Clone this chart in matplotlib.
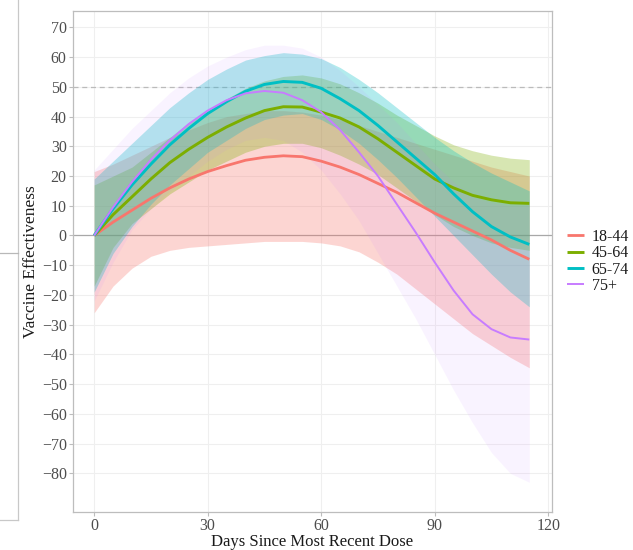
import matplotlib
matplotlib.use("Agg")
import matplotlib.pyplot as plt
from matplotlib.lines import Line2D
import numpy as np

days = [0, 5, 10, 15, 20, 25, 30, 35, 40, 45, 50, 55, 60, 65, 70, 75, 80, 85, 90, 95, 100, 105, 110, 115]
groups = ["18-44", "45-64", "65-74", "75+"]
colors = ["#F8766D", "#7CAE00", "#00BFC4", "#C77CFF"]

ve_18_44 = [0, 4.5, 8.5, 12.5, 16, 19, 21.5, 23.5, 25.3, 26.3, 26.8, 26.5, 25, 23, 20.5, 17.5, 14.5, 11, 7.5, 4.5, 1.5, -1.5, -5, -8]
ve_45_64 = [0, 7, 13, 19, 24.5, 29, 33, 36.5, 39.5, 42, 43.3, 43.2, 41.5, 39.5, 36.5, 32.5, 28, 23.5, 19, 16, 13.5, 12, 11, 10.8]
ve_65_74 = [0, 9, 17, 24, 30.5, 36, 41, 45, 48.5, 50.8, 51.8, 51.5, 49.5, 46, 42, 37, 31.5, 26, 20.5, 14, 8, 3, -0.5, -3]
ve_75 = [0, 9.5, 18, 25.5, 32, 37.5, 42, 45.5, 47.8, 48.6, 48, 45.5, 41.5, 35.5, 28, 20, 10.5, 1, -9, -18.5, -26.5, -31.5, -34.3, -35]

up_18_44 = [21.5, 24, 27, 30, 33, 35.5, 38, 40, 41, 42, 42, 41.5, 40.5, 39, 37, 35, 33, 31, 29, 27, 25, 23, 21.5, 20]
lo_18_44 = [-26, -17, -11, -7, -5, -4, -3.5, -3, -2.5, -2, -2, -2, -2.5, -3.5, -5.5, -9, -13, -18, -23, -28, -33, -37, -41, -44.5]
up_45_64 = [17, 20, 23, 28, 33, 38, 42, 46, 49.5, 52, 53.5, 54, 53, 51, 48, 44.5, 40.5, 37, 33.5, 30.5, 28.5, 27, 26, 25.5]
lo_45_64 = [-17, -4, 4, 9, 14, 18, 22, 25, 28, 30, 31, 31, 29.5, 27, 24, 20.5, 16, 11.5, 7, 3, 0, -2.5, -4, -5]
up_65_74 = [19, 25, 31, 37, 43, 48, 52.5, 56, 59, 60.5, 61.5, 61, 59.5, 56.5, 52.5, 48, 43, 38, 33, 28.5, 24.5, 21, 18, 15]
lo_65_74 = [-19, -6, 3, 10.5, 17, 22.5, 28, 32, 36, 39, 40.5, 41, 39, 35.5, 31, 25.5, 19.5, 13, 6.5, 0, -6.5, -13, -19, -24]
up_75 = [22, 29, 36, 42, 48, 53, 57, 60, 62.5, 64, 64, 63, 60, 55.5, 50, 44, 38, 31, 24, 18, 13, 11, 10, 10]
lo_75 = [-22, -9, 2, 9, 15, 20, 25, 29, 32, 33, 32, 28, 22, 14, 5, -6, -17, -28, -40, -52, -63, -73, -80, -83]

lines = [ve_18_44, ve_45_64, ve_65_74, ve_75]
uppers = [up_18_44, up_45_64, up_65_74, up_75]
lowers = [lo_18_44, lo_45_64, lo_65_74, lo_75]
band_alpha = [0.3, 0.3, 0.3, 0.09]
line_w = [2.0, 2.1, 2.1, 1.4]

x_ticks = [0, 30, 60, 90, 120]
y_ticks = list(range(-80, 71, 10))

plt.rcParams['font.family'] = ['Liberation Serif', 'DejaVu Serif']

fig = plt.figure(figsize=(6.33, 5.5), dpi=100)
ax = fig.add_axes([0.1153, 0.0691, 0.7567, 0.9109])

ax.set_xlim(-5.6, 121)
ax.set_ylim(-93, 75.5)

for i in range(4):
    ax.fill_between(days, lowers[i], uppers[i], color=colors[i], alpha=band_alpha[i], linewidth=0, zorder=2)

ax.axhline(0, color="#A8A8A8", lw=0.9, zorder=1.5)
ax.axhline(50, color="#BBBBBB", lw=0.9, ls=(0, (4, 3)), zorder=1.5)

for i in range(4):
    ax.plot(days, lines[i], color=colors[i], lw=line_w[i], zorder=3, label=groups[i],
            solid_capstyle='butt')

ax.set_xticks(x_ticks)
ax.set_yticks(y_ticks)
ax.grid(True, color="#EFEFEF", lw=0.8, zorder=0)
ax.set_axisbelow(True)
for s in ax.spines.values():
    s.set_color("#BDBDBD")
    s.set_linewidth(0.9)
ax.tick_params(colors="#BDBDBD", labelcolor="#4D4D4D", labelsize=11.5, length=3, width=0.8, pad=1.5)
ax.tick_params(axis="x", pad=1)
ax.set_ylabel("Vaccine Effectiveness", fontsize=12.5, color="#1A1A1A", labelpad=2)
fig.text(312/633, 1 - 542/550, "Days Since Most Recent Dose", fontsize=12, color="#1A1A1A",
         ha="center", va="center")

leg = ax.legend(loc="center left", bbox_to_anchor=(1.031, 0.5), frameon=False, fontsize=11.5,
                handlelength=1.1, handletextpad=0.45, labelspacing=0.02, borderaxespad=0, borderpad=0)
for t in leg.get_texts():
    t.set_color("#1A1A1A")

# partial neighbouring panel at the left edge
fig.add_artist(Line2D([18/633, 18/633], [1, 1-520/550], transform=fig.transFigure, color="#C8C8C8", lw=0.9))
fig.add_artist(Line2D([0, 18/633], [1-520/550, 1-520/550], transform=fig.transFigure, color="#C8C8C8", lw=0.9))
fig.add_artist(Line2D([0, 18/633], [1-253/550, 1-253/550], transform=fig.transFigure, color="#B8B8B8", lw=0.9))

fig.savefig("out.png", dpi=100)
